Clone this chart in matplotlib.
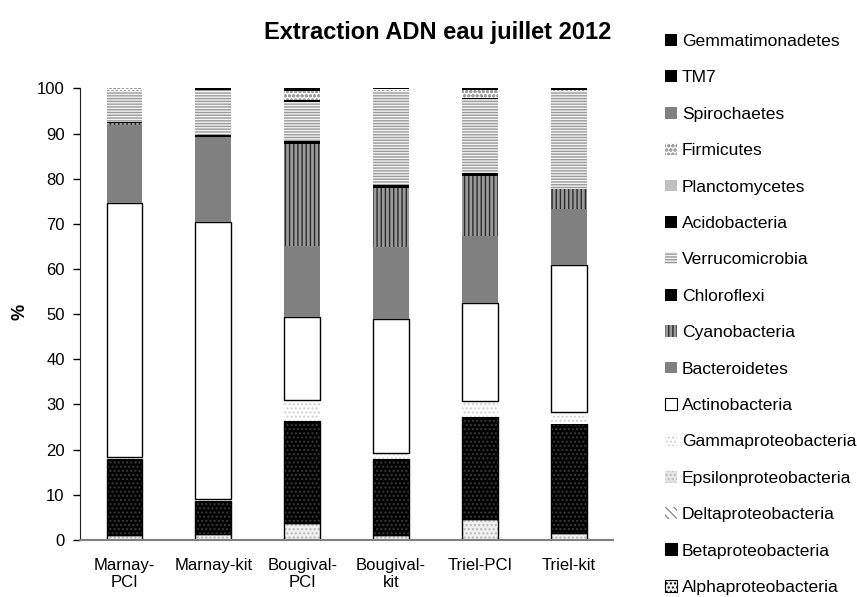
import matplotlib
matplotlib.use("Agg")
import matplotlib.pyplot as plt
from matplotlib.patches import Patch
import numpy as np

plt.rcParams['font.family'] = ['Liberation Sans', 'DejaVu Sans']
plt.rcParams['hatch.linewidth'] = 1.0

samples = ["Marnay-\nPCI", "Marnay-kit", "Bougival-\nPCI", "Bougival-\nkit", "Triel-PCI", "Triel-kit"]

# relative abundance (%) per phylum, one value per sample, bottom to top
alphaproteobacteria = [1.0, 1.3, 3.7, 1.2, 4.7, 1.6]
betaproteobacteria = [16.9, 7.4, 22.7, 16.8, 22.5, 24.1]
deltaproteobacteria = [0.0, 0.0, 0.0, 0.0, 0.0, 0.0]
epsilonproteobacteria = [0.0, 0.0, 0.0, 0.0, 0.0, 0.0]
gammaproteobacteria = [0.4, 0.4, 4.6, 1.3, 3.6, 2.6]
actinobacteria = [56.4, 61.3, 18.4, 29.6, 21.7, 32.5]
bacteroidetes = [17.2, 18.9, 15.7, 16.0, 14.8, 12.4]
cyanobacteria = [0.4, 0.0, 22.6, 13.0, 13.3, 4.6]
chloroflexi = [0.2, 0.3, 0.6, 0.6, 0.6, 0.0]
verrucomicrobia = [7.0, 10.1, 8.7, 21.0, 16.4, 21.6]
acidobacteria = [0.0, 0.0, 0.4, 0.0, 0.3, 0.0]
planctomycetes = [0.0, 0.0, 0.0, 0.0, 0.0, 0.0]
firmicutes = [0.5, 0.0, 2.0, 0.3, 1.7, 0.2]
spirochaetes = [0.0, 0.0, 0.0, 0.0, 0.0, 0.0]
tm7 = [0.0, 0.3, 0.0, 0.0, 0.0, 0.0]
gemmatimonadetes = [0.0, 0.0, 0.6, 0.2, 0.4, 0.4]

# (label, values, face colour, hatch, hatch colour, outlined)
series = [
    ("Alphaproteobacteria", alphaproteobacteria, "#f0f0f0", "....", "#b8b8b8", True),
    ("Betaproteobacteria", betaproteobacteria, "#000000", "....", "#3a3a3a", True),
    ("Deltaproteobacteria", deltaproteobacteria, "#ffffff", "\\\\\\\\", "#909090", False),
    ("Epsilonproteobacteria", epsilonproteobacteria, "#e4e4e4", "....", "#c0c0c0", False),
    ("Gammaproteobacteria", gammaproteobacteria, "#ffffff", "....", "#d0d0d0", False),
    ("Actinobacteria", actinobacteria, "#ffffff", None, "#000000", True),
    ("Bacteroidetes", bacteroidetes, "#808080", None, "#808080", False),
    ("Cyanobacteria", cyanobacteria, "#9a9a9a", "||||", "#2a2a2a", False),
    ("Chloroflexi", chloroflexi, "#000000", None, "#000000", False),
    ("Verrucomicrobia", verrucomicrobia, "#f4f4f4", "------", "#9a9a9a", False),
    ("Acidobacteria", acidobacteria, "#000000", None, "#000000", False),
    ("Planctomycetes", planctomycetes, "#c0c0c0", None, "#c0c0c0", False),
    ("Firmicutes", firmicutes, "#ffffff", "oooo", "#a0a0a0", False),
    ("Spirochaetes", spirochaetes, "#808080", None, "#808080", False),
    ("TM7", tm7, "#000000", None, "#000000", False),
    ("Gemmatimonadetes", gemmatimonadetes, "#000000", None, "#000000", False),
]

fig = plt.figure(figsize=(8.57, 5.97), dpi=100)
ax = fig.add_axes([0.0933, 0.0955, 0.6222, 0.7565])

x = np.arange(len(samples))
width = 0.4
bottom = np.zeros(len(samples))
handles = []
for label, vals, face, hatch, hcol, outlined in series:
    vals = np.array(vals)
    ax.bar(x, vals, width, bottom=bottom, color=face, hatch=hatch,
           edgecolor=hcol, linewidth=0)
    if outlined:
        ax.bar(x, vals, width, bottom=bottom, facecolor="none",
               edgecolor="#000000", linewidth=1.0)
    bottom += vals
    handles.append(Patch(facecolor=face, hatch=hatch,
                         edgecolor="#000000" if outlined else hcol,
                         linewidth=0.8 if outlined else 0))

ax.set_xlim(-0.5, len(samples) - 0.5)
ax.set_ylim(0, 100)
ax.set_yticks(np.arange(0, 101, 10))
ax.set_xticks(x)
ax.set_xticklabels(samples)
ax.tick_params(axis="x", length=0, pad=13, labelsize=12)
ax.tick_params(axis="y", length=5, width=1, direction="out", labelsize=12, pad=6)
for side in ("top", "right"):
    ax.spines[side].set_visible(False)
ax.spines["left"].set_color("#202020")
ax.spines["bottom"].set_color("#808080")
ax.spines["bottom"].set_linewidth(1.5)

fig.text(0.511, 0.946, "Extraction ADN eau juillet 2012", ha="center", va="center",
         fontsize=17, fontweight="bold")
fig.text(0.023, 0.477, "%", ha="center", va="center", rotation=90,
         fontsize=13, fontweight="bold")

fig.legend(handles[::-1], [s[0] for s in series][::-1], loc="upper left",
           bbox_to_anchor=(0.776, 0.943), frameon=False, fontsize=12.6,
           handlelength=0.66, handleheight=0.66, handletextpad=0.3,
           labelspacing=1.22, borderpad=0, borderaxespad=0)

fig.savefig("out.png", dpi=100)
